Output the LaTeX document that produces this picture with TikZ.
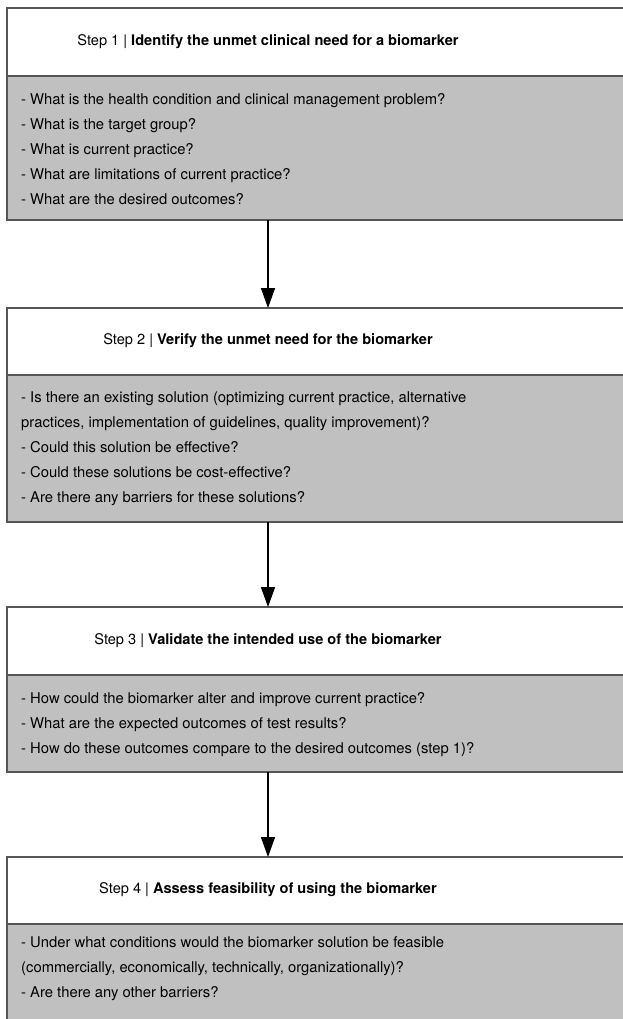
\documentclass[tikz,border=0pt]{standalone}
\usepackage{fontspec}
\setmainfont{TeX Gyre Heros}
\usetikzlibrary{arrows.meta}
\definecolor{bordergray}{HTML}{555555}
\definecolor{bodygray}{HTML}{C0C0C0}
\begin{document}
\begin{tikzpicture}[x=1pt,y=-1pt,
  headbox/.style={draw=bordergray, line width=1.3pt, fill=white, minimum width=660pt, anchor=north west, inner sep=0pt, outer sep=0pt},
  bodybox/.style={draw=bordergray, line width=1.3pt, fill=bodygray, minimum width=660pt, anchor=north west, inner sep=0pt, outer sep=0pt},
  titletext/.style={font=\fontsize{14.6}{17}\selectfont, inner sep=0pt},
  bodytext/.style={font=\fontsize{14.8}{25}\selectfont, align=left, anchor=north west, inner sep=0pt},
  flow/.style={line width=1.5pt, -{Triangle[width=14pt,length=20pt]}}]
\clip (0,0) rectangle (623,1019);
\fill[white] (0,0) rectangle (623,1019);
% Step 1
\node[headbox, minimum height=68pt] (h1) at (7,8) {};
\node[bodybox, minimum height=144pt] (b1) at (7,76) {};
\node[titletext] (t1) at (268,42) {Step 1 | \textbf{Identify the unmet clinical need for a biomarker}};
\node[bodytext] (q1) at (21,93) {- What is the health condition and clinical management problem?\\
- What is the target group?\\
- What is current practice?\\
- What are limitations of current practice?\\
- What are the desired outcomes?};
% Step 2
\node[headbox, minimum height=67pt] (h2) at (7,308) {};
\node[bodybox, minimum height=147pt] (b2) at (7,375) {};
\node[titletext] (t2) at (268,341) {Step 2 | \textbf{Verify the unmet need for the biomarker}};
\node[bodytext] (q2) at (21,392) {- Is there an existing solution (optimizing current practice, alternative\\
practices, implementation of guidelines, quality improvement)?\\
- Could this solution be effective?\\
- Could these solutions be cost-effective?\\
- Are there any barriers for these solutions?};
% Step 3
\node[headbox, minimum height=68pt] (h3) at (7,607) {};
\node[bodybox, minimum height=97pt] (b3) at (7,675) {};
\node[titletext] (t3) at (268,641) {Step 3 | \textbf{Validate the intended use of the biomarker}};
\node[bodytext] (q3) at (21,692) {- How could the biomarker alter and improve current practice?\\
- What are the expected outcomes of test results?\\
- How do these outcomes compare to the desired outcomes (step 1)?};
% Step 4
\node[headbox, minimum height=67pt] (h4) at (7,857) {};
\node[bodybox, minimum height=110pt] (b4) at (7,924) {};
\node[titletext] (t4) at (268,890) {Step 4 | \textbf{Assess feasibility of using the biomarker}};
\node[bodytext] (q4) at (21,936) {- Under what conditions would the biomarker solution be feasible\\
(commercially, economically, technically, organizationally)?\\
- Are there any other barriers?};
% arrows
\draw[flow] (b1.south west -| t1.center) -- (h2.north west -| t1.center);
\draw[flow] (b2.south west -| t1.center) -- (h3.north west -| t1.center);
\draw[flow] (b3.south west -| t1.center) -- (h4.north west -| t1.center);
\end{tikzpicture}
\end{document}
